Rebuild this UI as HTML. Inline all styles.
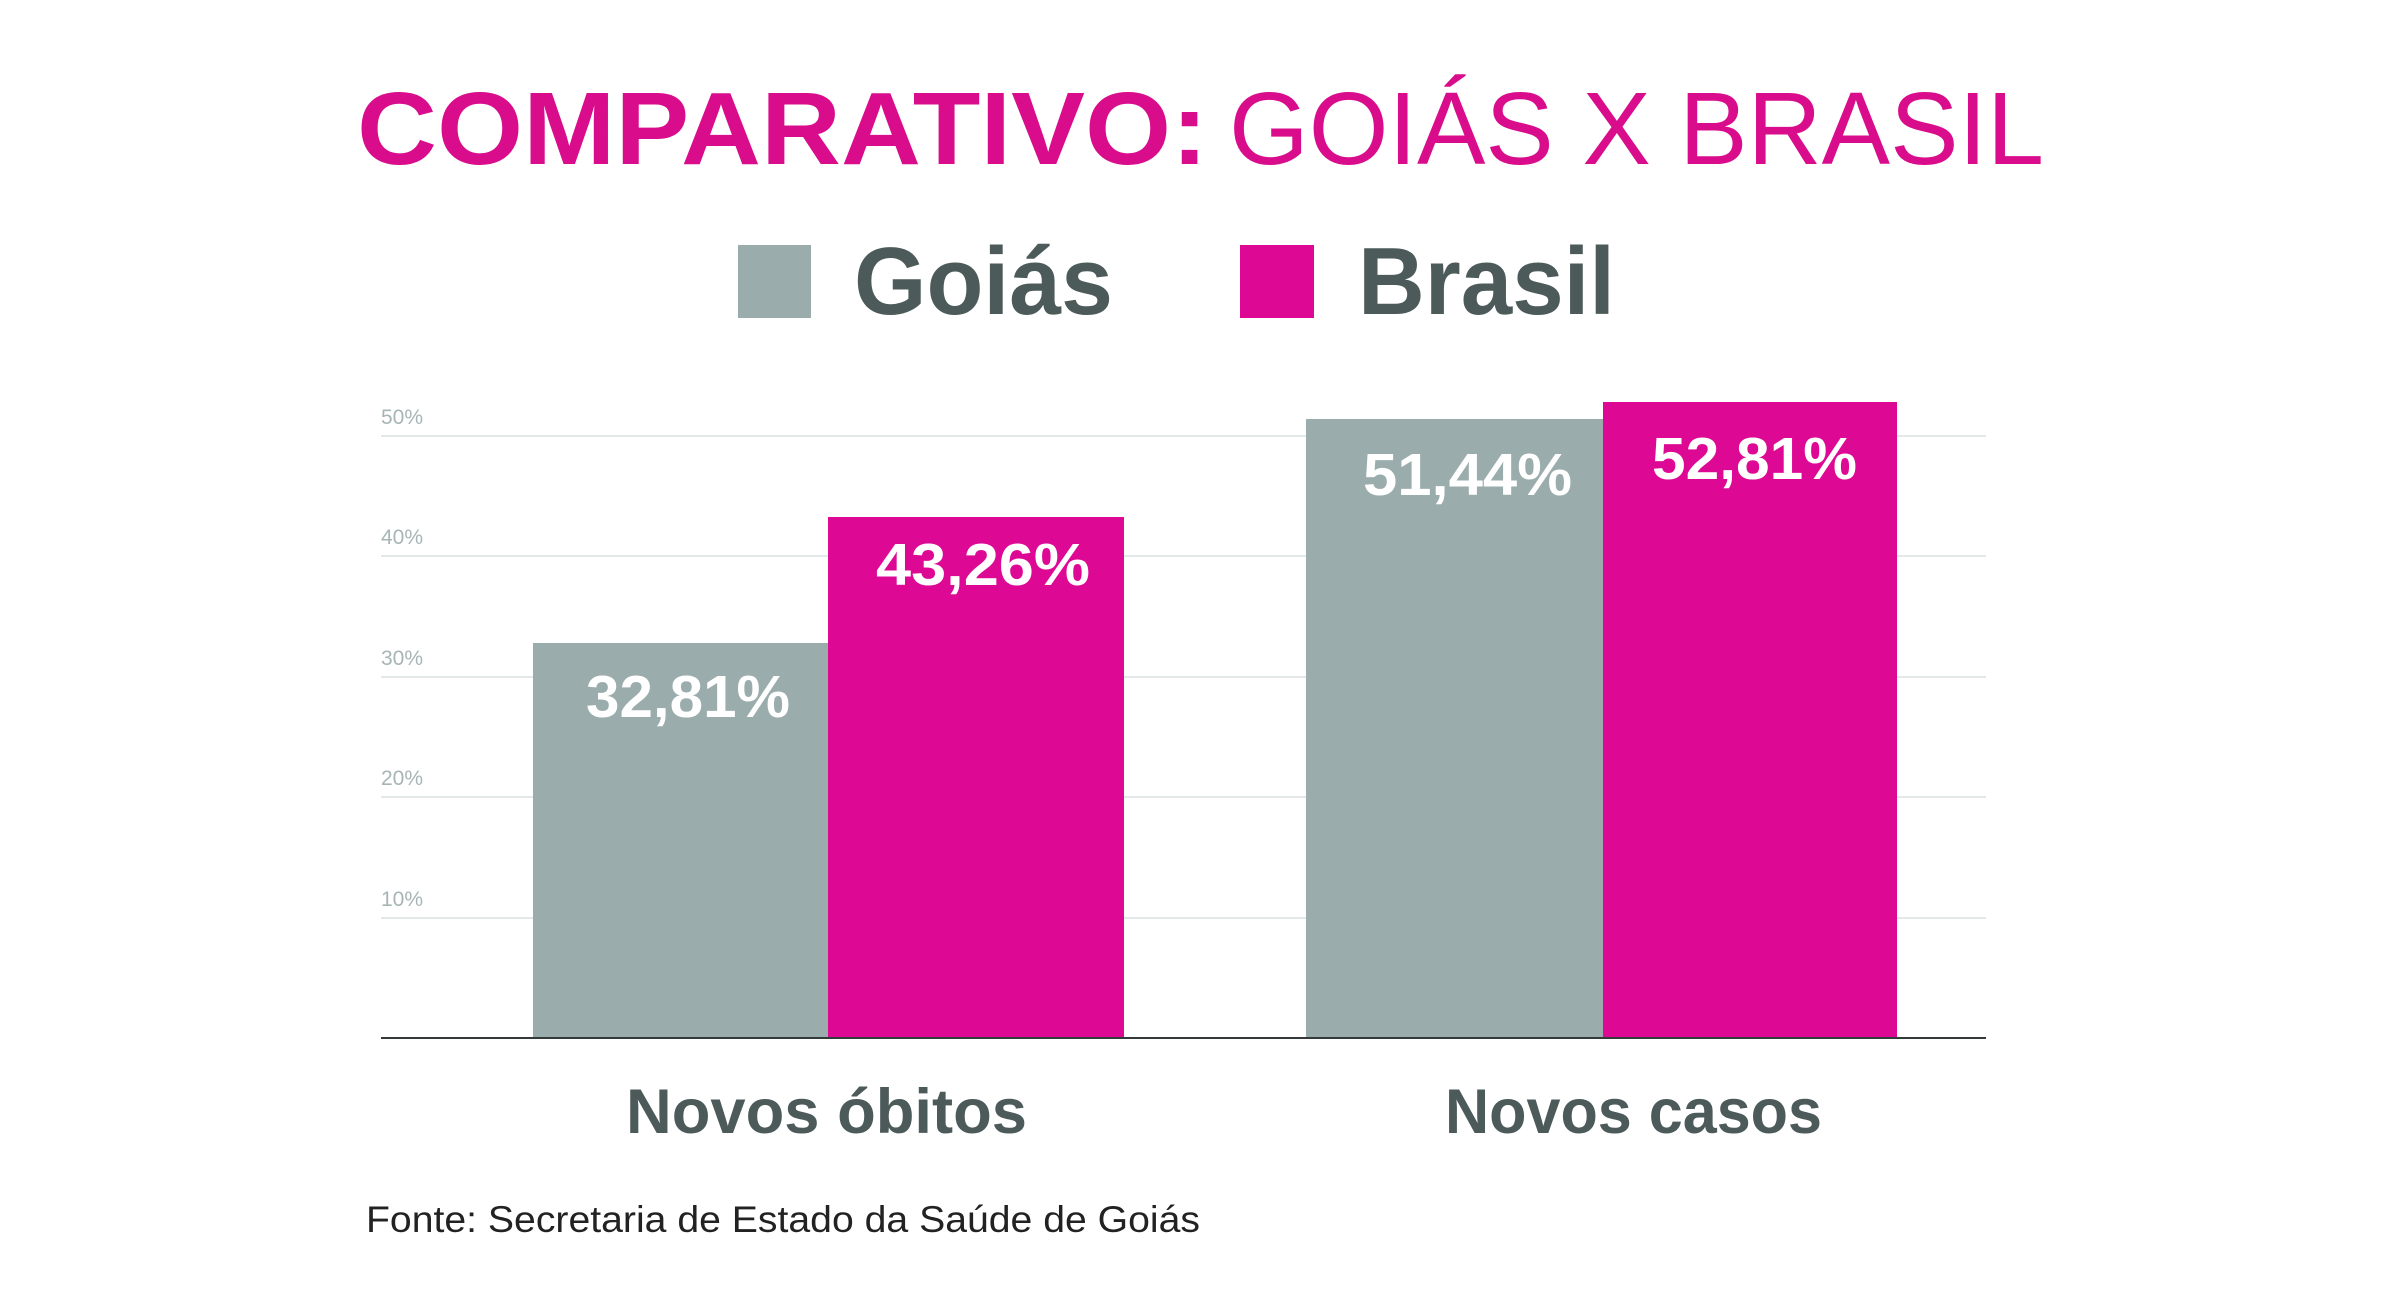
<!DOCTYPE html>
<html><head><meta charset="utf-8"><style>
html,body{margin:0;padding:0;background:#fff;width:2400px;height:1299px;overflow:hidden}
svg{display:block}
text{font-family:"Liberation Sans",sans-serif}
</style></head><body>
<svg width="2400" height="1299" viewBox="0 0 2400 1299" xmlns="http://www.w3.org/2000/svg">
<rect width="2400" height="1299" fill="#fff"/>
<text x="357" y="164" font-size="103" font-weight="bold" fill="#d90c8c" textLength="851" lengthAdjust="spacingAndGlyphs">COMPARATIVO:</text>
<text x="1229" y="164" font-size="103" fill="#d90c8c" textLength="815" lengthAdjust="spacingAndGlyphs">GOIÁS X BRASIL</text>
<rect x="738" y="245" width="73" height="73" fill="#9aacab"/>
<text x="854" y="314" font-size="96" font-weight="bold" fill="#4d5a5a" textLength="259" lengthAdjust="spacingAndGlyphs">Goiás</text>
<rect x="1240" y="245" width="74" height="73" fill="#dd0894"/>
<text x="1358" y="314" font-size="96" font-weight="bold" fill="#4d5a5a" textLength="257" lengthAdjust="spacingAndGlyphs">Brasil</text>
<g stroke="#e3e9e9" stroke-width="2">
<line x1="381" y1="436" x2="1986" y2="436"/>
<line x1="381" y1="556" x2="1986" y2="556"/>
<line x1="381" y1="677" x2="1986" y2="677"/>
<line x1="381" y1="797" x2="1986" y2="797"/>
<line x1="381" y1="918" x2="1986" y2="918"/>
</g>
<g font-size="21" fill="#a7b5b4">
<text x="381" y="424">50%</text>
<text x="381" y="544">40%</text>
<text x="381" y="665">30%</text>
<text x="381" y="785">20%</text>
<text x="381" y="906">10%</text>
</g>
<rect x="533" y="643" width="295" height="395" fill="#9aacab"/>
<rect x="828" y="517" width="296" height="521" fill="#dd0894"/>
<rect x="1306" y="419" width="297" height="619" fill="#9aacab"/>
<rect x="1603" y="402" width="294" height="636" fill="#dd0894"/>
<line x1="381" y1="1038" x2="1986" y2="1038" stroke="#333a3a" stroke-width="2"/>
<g font-size="59" font-weight="bold" fill="#fff">
<text x="586" y="717" textLength="204" lengthAdjust="spacingAndGlyphs">32,81%</text>
<text x="876" y="585" textLength="214" lengthAdjust="spacingAndGlyphs">43,26%</text>
<text x="1363" y="495" textLength="209" lengthAdjust="spacingAndGlyphs">51,44%</text>
<text x="1652" y="479" textLength="205" lengthAdjust="spacingAndGlyphs">52,81%</text>
</g>
<g font-size="63" font-weight="bold" fill="#4d5a5a">
<text x="626" y="1133" textLength="401" lengthAdjust="spacingAndGlyphs">Novos óbitos</text>
<text x="1445" y="1133" textLength="377" lengthAdjust="spacingAndGlyphs">Novos casos</text>
</g>
<text x="366" y="1232" font-size="37" fill="#222" textLength="834" lengthAdjust="spacingAndGlyphs">Fonte: Secretaria de Estado da Saúde de Goiás</text>
</svg>
</body></html>
